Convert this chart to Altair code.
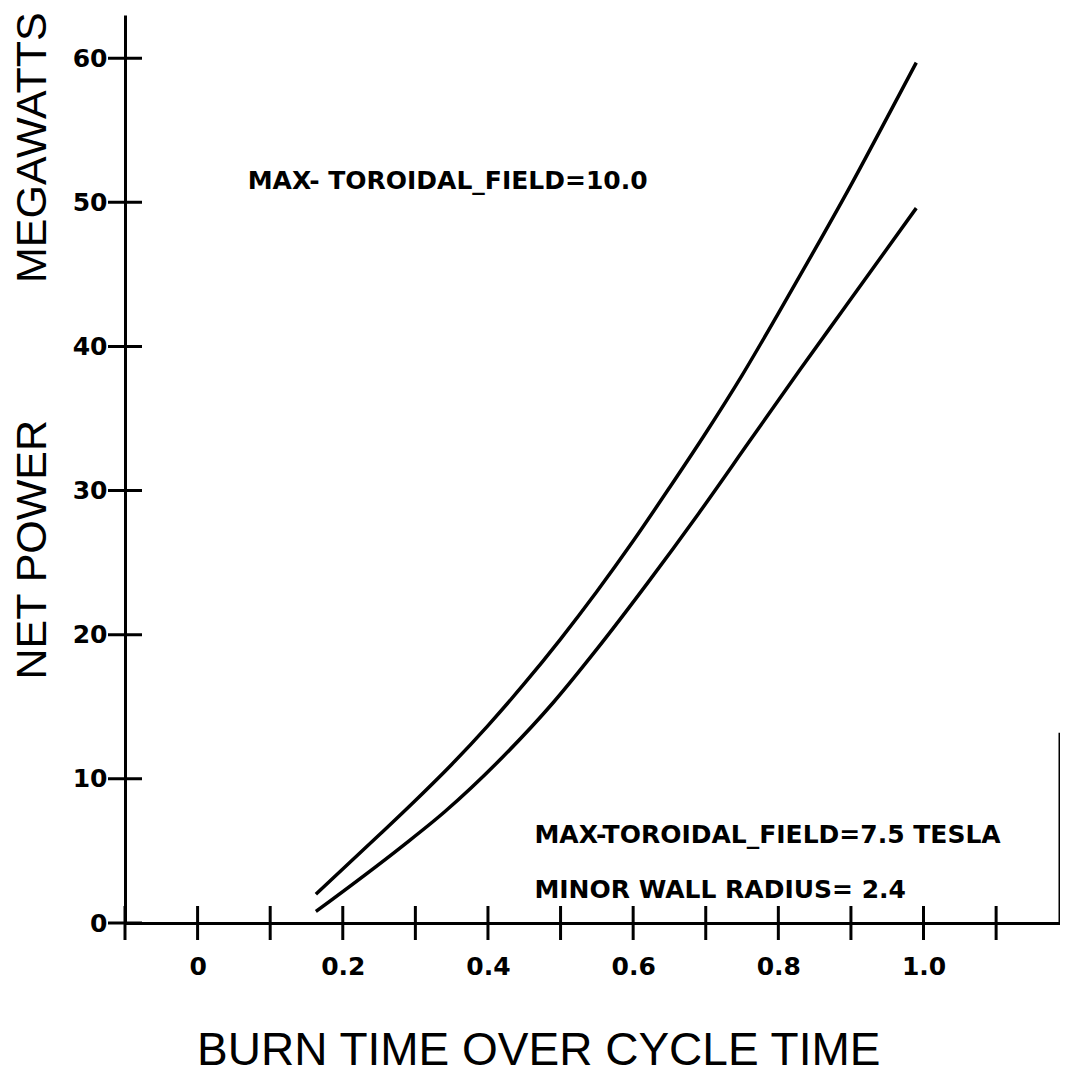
import altair as alt
import pandas as pd

# ---- data ----
upper_x = [0.163, 0.25, 0.30, 0.35, 0.40, 0.45, 0.50, 0.55, 0.60, 0.65, 0.70, 0.75, 0.80, 0.85, 0.90, 0.95, 0.99]
upper_y = [2.0, 6.1, 8.5, 11.0, 13.7, 16.6, 19.7, 23.0, 26.5, 30.2, 34.0, 38.0, 42.3, 46.7, 51.2, 55.9, 59.7]
lower_x = [0.163, 0.28, 0.34, 0.42, 0.49, 0.55, 0.62, 0.69, 0.76, 0.83, 0.89, 0.95, 0.99]
lower_y = [0.8, 5.25, 7.7, 11.5, 15.3, 19.0, 23.6, 28.4, 33.4, 38.4, 42.6, 46.8, 49.6]

x_tick_values = [-0.1, 0.0, 0.1, 0.2, 0.3, 0.4, 0.5, 0.6, 0.7, 0.8, 0.9, 1.0, 1.1]
x_label_values = [0.0, 0.2, 0.4, 0.6, 0.8, 1.0]
y_tick_values = [0, 10, 20, 30, 40, 50, 60]

note_text = ["MAX- TOROIDAL_FIELD=10.0", "MAX-TOROIDAL_FIELD=7.5 TESLA", "MINOR WALL RADIUS= 2.4"]
note_x = [0.069, 0.464, 0.464]
note_y = [51.5, 6.1, 2.3]

ytitle_text = ["NET POWER", "MEGAWATTS"]
ytitle_x = [-0.227, -0.227]
ytitle_y = [25.9, 53.8]

xtitle_text = ["BURN TIME OVER CYCLE TIME"]
xtitle_x = [0.470]
xtitle_y = [-8.9]

X_MIN, X_MAX = -0.1, 1.188
Y_MIN, Y_MAX = 0, 63
frame_top = 13.2

# ---- tables ----
curves = pd.DataFrame({
    "x": upper_x + lower_x,
    "y": upper_y + lower_y,
    "series": ["10.0"] * len(upper_x) + ["7.5"] * len(lower_x),
})
xticks = pd.DataFrame({"x": x_tick_values, "y": [0] * len(x_tick_values)})
yticks = pd.DataFrame({"x": [X_MIN] * len(y_tick_values), "y": y_tick_values})
notes = pd.DataFrame({"t": note_text, "x": note_x, "y": note_y})
ytitles = pd.DataFrame({"t": ytitle_text, "x": ytitle_x, "y": ytitle_y})
xtitles = pd.DataFrame({"t": xtitle_text, "x": xtitle_x, "y": xtitle_y})
frame = pd.DataFrame({"x": [X_MAX], "y": [0], "y2": [frame_top]})

xs = alt.Scale(domain=[X_MIN, X_MAX], nice=False, zero=False)
ys = alt.Scale(domain=[Y_MIN, Y_MAX], nice=False, zero=False)

xaxis = alt.Axis(values=x_label_values, ticks=False, grid=False, title=None,
                 labelExpr="datum.value == 0 ? '0' : format(datum.value, '.1f')",
                 domainColor="black", domainWidth=3,
                 labelFont="DejaVu Sans", labelFontWeight="bold", labelFontSize=25,
                 labelColor="black", labelPadding=43, labelBaseline="middle")
yaxis = alt.Axis(values=y_tick_values, ticks=False, grid=False, title=None,
                 format="d", domainColor="black", domainWidth=3,
                 labelFont="DejaVu Sans", labelFontWeight="bold", labelFontSize=25,
                 labelColor="black", labelPadding=18, labelBaseline="middle")

X = lambda f: alt.X(f, scale=xs, axis=xaxis)
Y = lambda f: alt.Y(f, scale=ys, axis=yaxis)

lines = alt.Chart(curves).mark_line(color="black", strokeWidth=3.5, interpolate="monotone").encode(
    x=X("x:Q"), y=Y("y:Q"), detail="series:N")

xt = alt.Chart(xticks).mark_tick(orient="vertical", size=34, thickness=3, color="black",
                                 opacity=1).encode(x=X("x:Q"), y=Y("y:Q"))
yt = alt.Chart(yticks).mark_tick(orient="horizontal", size=34, thickness=3, color="black",
                                 opacity=1).encode(x=X("x:Q"), y=Y("y:Q"))

fr = alt.Chart(frame).mark_rule(color="black", strokeWidth=3).encode(
    x=X("x:Q"), y=Y("y:Q"), y2="y2:Q")

nt = alt.Chart(notes).mark_text(align="left", baseline="middle", font="DejaVu Sans",
                                fontWeight="bold", fontSize=25, color="black").encode(
    x=X("x:Q"), y=Y("y:Q"), text="t:N")

yti = alt.Chart(ytitles).mark_text(align="center", baseline="middle", font="Liberation Sans",
                                   fontSize=43, angle=270, color="black").encode(
    x=X("x:Q"), y=Y("y:Q"), text="t:N")

xti = alt.Chart(xtitles).mark_text(align="center", baseline="middle", font="Liberation Sans",
                                   fontSize=46, color="black").encode(
    x=X("x:Q"), y=Y("y:Q"), text="t:N")

chart = alt.layer(lines, xt, yt, fr, nt, yti, xti).properties(
    width=935, height=908,
    autosize=alt.AutoSizeParams(type="none"),
    padding={"left": 117, "top": 7, "right": 0, "bottom": 155},
    background="white",
).configure_view(strokeWidth=0)

chart.save("out.html", embed_options={"renderer": "svg", "actions": False})
